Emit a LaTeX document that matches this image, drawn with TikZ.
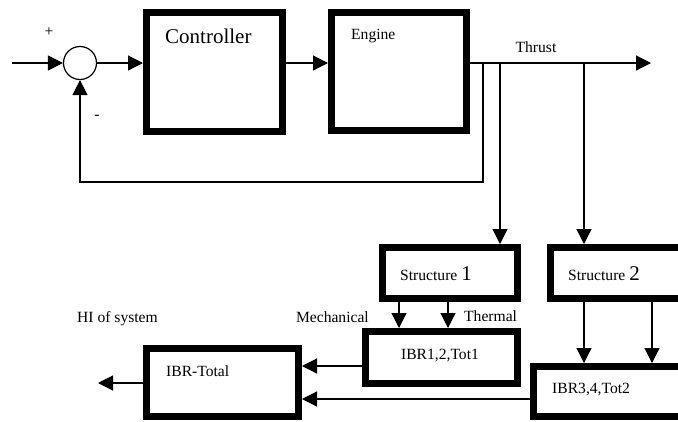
\documentclass[tikz,border=0pt]{standalone}
\usepackage{fontspec}
\setmainfont{Liberation Serif}
\usetikzlibrary{arrows.meta,calc}
\begin{document}
\begin{tikzpicture}[x=1pt,y=-1pt,
  blk/.style={draw,line width=7pt,rectangle,inner sep=0pt},
  wire/.style={line width=1.2pt},
  arr/.style={wire,-{Triangle[length=15pt,width=15pt]}},
  lbl/.style={font=\fontsize{15.6}{18}\selectfont,inner sep=0pt},
  big/.style={font=\fontsize{21}{24}\selectfont,inner sep=0pt}]
\useasboundingbox (0,0) rectangle (678,421);
\clip (0,0) rectangle (678,421);

% summing junction
\node[draw,circle,line width=1.2pt,minimum size=33pt,inner sep=0pt] (sum) at (80,63) {};

% blocks
\node[blk,minimum width=136pt,minimum height=119pt] (ctrl) at (214.5,72) {};
\node[blk,minimum width=135pt,minimum height=118pt] (eng) at (399,71.5) {};
\node[blk,minimum width=135pt,minimum height=51pt] (s1) at (450,273) {};
\node[blk,minimum width=136pt,minimum height=51pt] (s2) at (618.5,273) {};
\node[blk,minimum width=152pt,minimum height=52pt] (ibr1) at (441.5,357.5) {};
\node[blk,minimum width=153pt,minimum height=50pt] (ibr2) at (610,391.5) {};
\node[blk,minimum width=152pt,minimum height=68pt] (tot) at (222.5,382.5) {};

% block texts
\node[big,anchor=base west] (tctrl) at (165,43) {Controller};
\node[lbl,anchor=base west] (teng) at (351,39) {Engine};
\node[lbl,anchor=base west] (ts1) at (400,280) {Structure {\fontsize{21}{24}\selectfont 1}};
\node[lbl,anchor=base west] (ts2) at (568,280) {Structure {\fontsize{21}{24}\selectfont 2}};
\node[lbl,anchor=base] (tibr1) at (440,359) {IBR1,2,Tot1};
\node[lbl,anchor=base west] (tibr2) at (552,393) {IBR3,4,Tot2};
\node[lbl,anchor=base west] (ttot) at (166,376) {IBR-Total};

% signal labels
\node[lbl] (plus) at (49,32) {+};
\node[lbl] (minus) at (97,117) {-};
\node[lbl,anchor=base] (thrust) at (536,52) {Thrust};
\node[lbl,anchor=base west] (hi) at (77,322) {HI of system};
\node[lbl,anchor=base east] (mech) at (369,322) {Mechanical};
\node[lbl,anchor=base west] (therm) at (464,321) {Thermal};

% forward path
\coordinate (in) at (12,63);
\coordinate (out) at (651,63);
\draw[arr] (in) -- (sum.west);
\draw[arr] (sum.east) -- (sum.east -| ctrl.west);
\draw[arr] (ctrl.east |- sum.east) -- (eng.west |- sum.east);
\draw[arr] (eng.east |- out) -- (out);

% feedback and branches
\coordinate (fb) at (483,63);
\coordinate (fbc) at (483,182);
\coordinate (br1) at (500,63);
\coordinate (br2) at (584,63);
\draw[arr] (fb) -- (fbc) -| (sum.south);
\draw[arr] (br1) -- (br1 |- s1.north);
\draw[arr] (br2) -- (br2 |- s2.north);

% structure outputs
\coordinate (m1) at (399,0);
\coordinate (m2) at (448,0);
\coordinate (m3) at (584,0);
\coordinate (m4) at (652,0);
\draw[arr] (m1 |- s1.south) -- (m1 |- ibr1.north);
\draw[arr] (m2 |- s1.south) -- (m2 |- ibr1.north);
\draw[arr] (m3 |- s2.south) -- (m3 |- ibr2.north);
\draw[arr] (m4 |- s2.south) -- (m4 |- ibr2.north);

% into total block and out
\coordinate (r1) at (0,366);
\coordinate (r2) at (0,399);
\coordinate (hiout) at (98,383);
\draw[arr] (ibr1.west |- r1) -- (tot.east |- r1);
\draw[arr] (ibr2.west |- r2) -- (tot.east |- r2);
\draw[arr] (tot.west |- hiout) -- (hiout);
\end{tikzpicture}
\end{document}
